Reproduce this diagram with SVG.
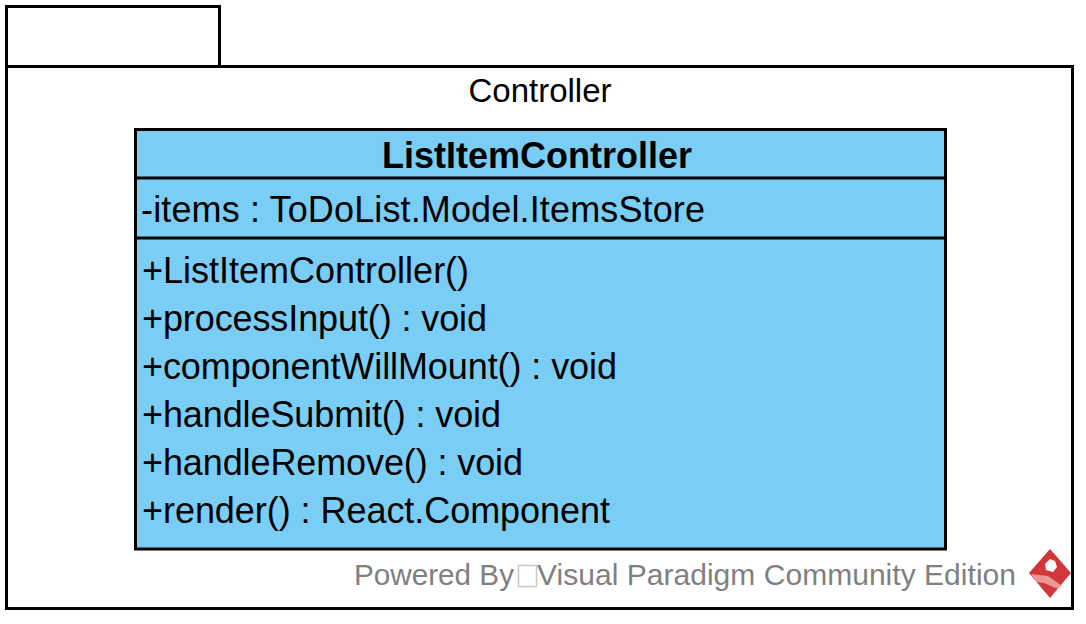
<svg xmlns="http://www.w3.org/2000/svg" width="1086" height="624" viewBox="0 0 1086 624">
<style>
.ln{fill:none;stroke:#000;stroke-width:3}
.p{font-family:"Liberation Sans",Arial,sans-serif;font-size:33px;fill:#000}
.t{font-family:"Liberation Sans",Arial,sans-serif;font-size:36px;fill:#000}
.b{font-weight:bold;text-anchor:middle}
.wm{font-family:"Liberation Sans",Arial,sans-serif;font-size:30px;fill:#808080}
</style>
<rect width="1086" height="624" fill="#fff"/>
<g id="package-controller">
<rect class="ln" x="6.500" y="6.500" width="213" height="60"/>
<rect class="ln" x="6.500" y="66.500" width="1066" height="542"/>
<text x="540" y="102" text-anchor="middle" class="p">Controller</text>
</g>
<g id="class-listitemcontroller">
<rect x="135.500" y="129.500" width="810" height="419.500" fill="#7acdf4" stroke="#000" stroke-width="3"/>
<path class="ln" d="M135 178H946M135 238H946"/>
<text x="537" y="168" class="t b">ListItemController</text>
<text x="141" y="222" class="t" textLength="564">-items : ToDoList.Model.ItemsStore</text>
<text x="142" y="283" class="t">+ListItemController()</text>
<text x="142" y="331" class="t" textLength="345">+processInput() : void</text>
<text x="142" y="379" class="t" textLength="475">+componentWillMount() : void</text>
<text x="142" y="427" class="t" textLength="359">+handleSubmit() : void</text>
<text x="142" y="475" class="t" textLength="381">+handleRemove() : void</text>
<text x="142" y="523" class="t" textLength="468">+render() : React.Component</text>
</g>
<g id="watermark">
<text x="354" y="585" class="wm" textLength="160" lengthAdjust="spacingAndGlyphs">Powered By</text>
<rect x="518.500" y="565.500" width="18" height="21" fill="#fff" stroke="#c8c8c8" stroke-width="1.500"/>
<text x="537" y="585" class="wm" textLength="479">Visual Paradigm Community Edition</text>
<path d="M1050 549L1071 573L1050 598L1029 573Z" fill="#d2363a"/>
<path d="M1045 564L1050 559L1055 561L1057 567L1053 572L1046 570Z" fill="#fff"/>
<path d="M1031 574L1048 576L1062 586L1058 589L1044 583L1036 582Z" fill="#f0b0b0" fill-opacity=".8"/>
</g>
</svg>
